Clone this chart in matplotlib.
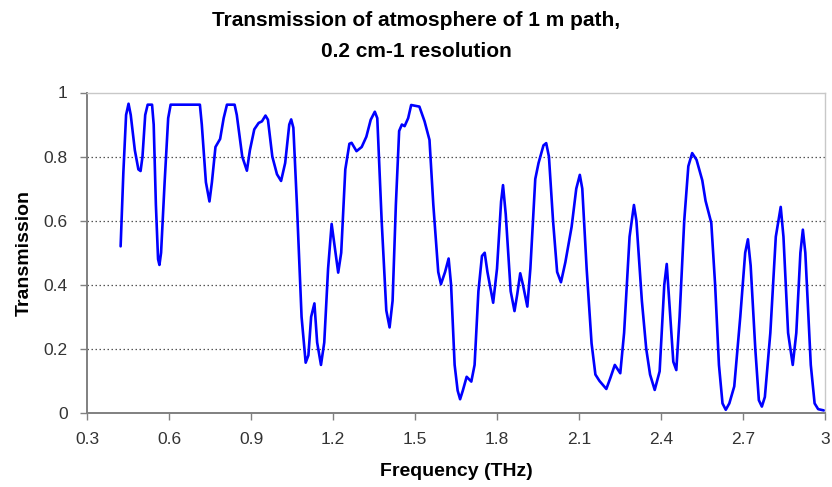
import matplotlib
matplotlib.use("Agg")
import matplotlib.pyplot as plt

# values (frequency THz, transmission)
freq = [0.423, 0.433, 0.443, 0.452, 0.460, 0.475, 0.488, 0.496, 0.503, 0.513,
        0.522, 0.538, 0.544, 0.552, 0.560, 0.565, 0.571, 0.584, 0.597, 0.606,
        0.713, 0.720, 0.735, 0.748, 0.757, 0.770, 0.787, 0.800, 0.812, 0.840,
        0.848, 0.868, 0.885, 0.896, 0.912, 0.928, 0.940, 0.953, 0.962, 0.978,
        0.995, 1.010, 1.025, 1.040, 1.047, 1.055, 1.068, 1.085, 1.100, 1.110,
        1.120, 1.132, 1.142, 1.156, 1.168, 1.182, 1.195, 1.203, 1.219, 1.230,
        1.245, 1.260, 1.268, 1.286, 1.305, 1.322, 1.338, 1.353, 1.362, 1.378,
        1.395, 1.407, 1.418, 1.430, 1.442, 1.452, 1.462, 1.475, 1.486, 1.516,
        1.535, 1.553, 1.567, 1.585, 1.595, 1.610, 1.623, 1.632, 1.645, 1.656,
        1.665, 1.675, 1.689, 1.706, 1.718, 1.732, 1.745, 1.755, 1.765, 1.786,
        1.800, 1.815, 1.822, 1.832, 1.850, 1.864, 1.874, 1.885, 1.895, 1.911,
        1.922, 1.940, 1.952, 1.970, 1.980, 1.990, 2.005, 2.020, 2.034, 2.050,
        2.073, 2.090, 2.103, 2.112, 2.128, 2.146, 2.160, 2.175, 2.200, 2.215,
        2.231, 2.251, 2.265, 2.285, 2.301, 2.310, 2.330, 2.346, 2.360, 2.377,
        2.395, 2.412, 2.421, 2.430, 2.445, 2.456, 2.468, 2.485, 2.500, 2.514,
        2.530, 2.551, 2.563, 2.584, 2.598, 2.612, 2.625, 2.637, 2.650, 2.668,
        2.690, 2.708, 2.718, 2.728, 2.745, 2.758, 2.769, 2.780, 2.800, 2.820,
        2.838, 2.848, 2.865, 2.882, 2.895, 2.910, 2.919, 2.928, 2.948, 2.962,
        2.975, 2.996]
trans = [0.52, 0.75, 0.93, 0.965, 0.93, 0.82, 0.76, 0.755, 0.80, 0.93,
         0.962, 0.962, 0.90, 0.65, 0.48, 0.462, 0.50, 0.72, 0.92, 0.962,
         0.962, 0.90, 0.72, 0.66, 0.72, 0.83, 0.855, 0.92, 0.962, 0.962,
         0.93, 0.80, 0.756, 0.82, 0.885, 0.905, 0.91, 0.928, 0.915, 0.80,
         0.745, 0.724, 0.78, 0.90, 0.916, 0.89, 0.65, 0.30, 0.157, 0.18,
         0.30, 0.342, 0.22, 0.150, 0.22, 0.45, 0.590, 0.54, 0.438, 0.50,
         0.76, 0.84, 0.843, 0.817, 0.83, 0.862, 0.915, 0.940, 0.92, 0.60,
         0.32, 0.267, 0.35, 0.65, 0.88, 0.90, 0.895, 0.92, 0.961, 0.956,
         0.91, 0.852, 0.65, 0.44, 0.402, 0.44, 0.482, 0.40, 0.15, 0.07,
         0.043, 0.07, 0.113, 0.098, 0.15, 0.38, 0.49, 0.500, 0.44, 0.344,
         0.45, 0.66, 0.711, 0.62, 0.38, 0.318, 0.37, 0.436, 0.40, 0.332,
         0.45, 0.73, 0.78, 0.835, 0.842, 0.80, 0.60, 0.44, 0.408, 0.47,
         0.581, 0.70, 0.743, 0.70, 0.45, 0.217, 0.12, 0.10, 0.075, 0.11,
         0.150, 0.124, 0.25, 0.55, 0.649, 0.60, 0.35, 0.20, 0.12, 0.072,
         0.13, 0.40, 0.465, 0.35, 0.16, 0.134, 0.30, 0.60, 0.77, 0.811,
         0.79, 0.726, 0.662, 0.593, 0.40, 0.15, 0.03, 0.01, 0.03, 0.083,
         0.30, 0.50, 0.542, 0.46, 0.20, 0.04, 0.02, 0.05, 0.25, 0.55,
         0.643, 0.55, 0.25, 0.15, 0.25, 0.50, 0.572, 0.50, 0.15, 0.03,
         0.012, 0.008]

xticks = [0.3, 0.6, 0.9, 1.2, 1.5, 1.8, 2.1, 2.4, 2.7, 3.0]
xticklabels = ["0.3", "0.6", "0.9", "1.2", "1.5", "1.8", "2.1", "2.4", "2.7", "3"]
yticks = [0, 0.2, 0.4, 0.6, 0.8, 1]
yticklabels = ["0", "0.2", "0.4", "0.6", "0.8", "1"]

plt.rcParams['font.family'] = ['Liberation Sans', 'DejaVu Sans']

fig = plt.figure(figsize=(8.32, 4.87), dpi=100)
ax = fig.add_axes([87/832, 1 - 413/487, 738/832, (413 - 92.5)/487])

ax.plot(freq, trans, color='#0000FF', lw=1.9, solid_joinstyle='round',
        solid_capstyle='round')

ax.set_xlim(0.3, 3.0)
ax.set_ylim(0, 1)
ax.set_xticks(xticks)
ax.set_xticklabels(xticklabels, fontsize=12.5, color='#333333')
ax.set_yticks(yticks)
ax.set_yticklabels(yticklabels, fontsize=12.5, color='#333333')

# dotted gridlines, Excel style
for yv in yticks[1:-1]:
    ax.axhline(yv, color='#555555', lw=0.9, ls=(0, (1.2, 2.0)), zorder=0)

for side in ['top', 'right']:
    ax.spines[side].set_color('#c8c8c8')
    ax.spines[side].set_linewidth(1.0)
for side in ['left', 'bottom']:
    ax.spines[side].set_color('#808080')
    ax.spines[side].set_linewidth(1.4)

ax.tick_params(axis='both', direction='out', length=5, width=1.0,
               color='#808080', pad=9)

ax.set_xlabel('Frequency (THz)', fontsize=14, fontweight='bold', labelpad=11)
ax.set_ylabel('Transmission', fontsize=14, fontweight='bold', labelpad=8)

fig.text(0.5, 0.978, 'Transmission of atmosphere of 1 m path,\n0.2 cm-1 resolution',
         ha='center', va='top', fontsize=15, fontweight='bold', linespacing=1.8)

fig.savefig('out.png', dpi=100)
